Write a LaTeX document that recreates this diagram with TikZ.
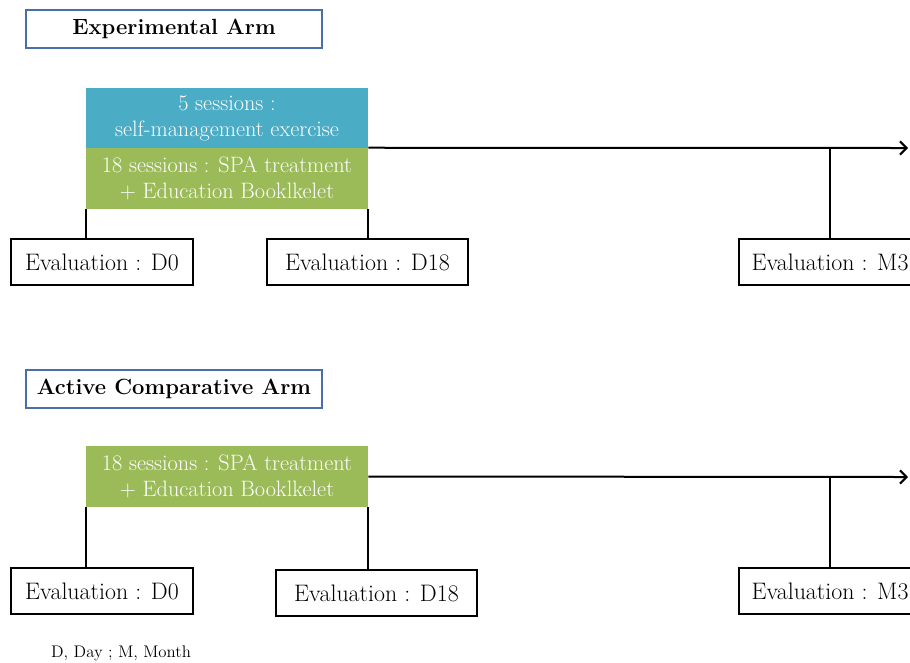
\documentclass[tikz,border=0pt]{standalone}
\usepackage{xcolor}
\usepackage{tikz}
\usetikzlibrary{arrows.meta}
\definecolor{armline}{HTML}{4A6FA8}
\definecolor{sessblue}{HTML}{4BACC6}
\definecolor{sessgreen}{HTML}{9BBB59}
\tikzset{
  armbox/.style={draw=armline, line width=1.5pt, fill=white, minimum width=222pt, minimum height=28.5pt, inner sep=0pt, font=\fontsize{16.5}{19}\selectfont\bfseries},
  sessbox/.style={minimum width=211.5pt, inner sep=0pt, align=center, text=white, font=\fontsize{16.7}{19.5}\selectfont},
  evalbox/.style={draw, line width=1.5pt, minimum height=34.5pt, inner sep=0pt, font=\fontsize{17.9}{20}\selectfont},
  link/.style={line width=1.5pt},
  timeline/.style={line width=1.5pt, -{Straight Barb[length=5pt, width=10pt]}},
}
\begin{document}
\begin{tikzpicture}[x=0.75pt, y=-0.75pt]%
\useasboundingbox (0,0) rectangle (910,662);%
% experimental arm
\node[armbox] (armA) at (174, 29) {Experimental Arm};%
\node[sessbox, fill=sessblue, minimum height=45pt] (blueA) at (227, 118) {5 sessions :\\self-management exercise};%
\node[sessbox, fill=sessgreen, minimum height=45.75pt] (greenA) at (227, 178.5) {18 sessions : SPA treatment\\+ Education Booklkelet};%
\node[evalbox, minimum width=136.5pt] (evA0) at (102, 262) {Evaluation : D0};%
\node[evalbox, minimum width=150.75pt] (evA18) at (367.5, 262) {Evaluation : D18};%
\node[evalbox, minimum width=136.5pt] (evAM3) at (830, 262) {Evaluation : M3};%
\coordinate (endA) at (908, 148);%
\draw[timeline] (greenA.north east) -- (endA);%
\draw[link] (greenA.south west) -- (evA0.north -| greenA.south west);%
\draw[link] (greenA.south east) -- (evA18.north -| greenA.south east);%
\draw[link] (evAM3.north) -- (evAM3.north |- endA);%
% active comparative arm
\node[armbox] (armB) at (174, 388.5) {Active Comparative Arm};%
\node[sessbox, fill=sessgreen, minimum height=45.75pt] (greenB) at (227, 476.5) {18 sessions : SPA treatment\\+ Education Booklkelet};%
\node[evalbox, minimum width=136.5pt] (evB0) at (102, 591) {Evaluation : D0};%
\node[evalbox, minimum width=150.75pt] (evB18) at (376.5, 593) {Evaluation : D18};%
\node[evalbox, minimum width=136.5pt] (evBM3) at (830, 591) {Evaluation : M3};%
\coordinate (endB) at (908, 477);%
\draw[timeline] (greenB.east) -- (endB);%
\draw[link] (greenB.south west) -- (evB0.north -| greenB.south west);%
\draw[link] (greenB.south east) -- (evB18.north -| greenB.south east);%
\draw[link] (evBM3.north) -- (evBM3.north |- endB);%
\node[font=\fontsize{12.6}{15}\selectfont] (key) at (121, 653) {D, Day ; M, Month};%
\end{tikzpicture}
\end{document}
